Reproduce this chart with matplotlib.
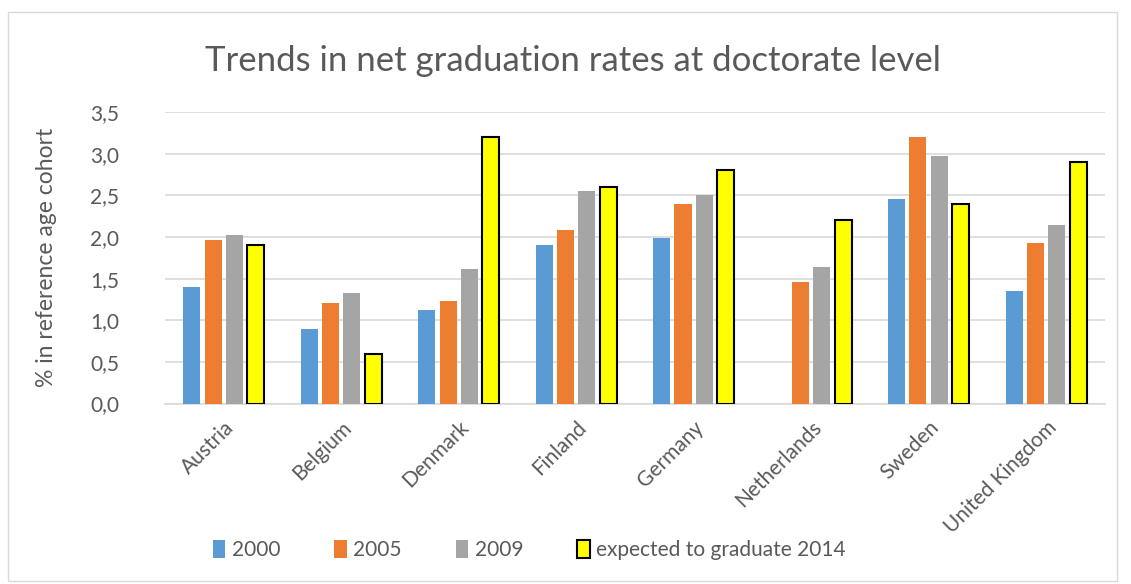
import numpy as np
import matplotlib
matplotlib.use("Agg")
import matplotlib.pyplot as plt
from matplotlib.patches import Rectangle
from matplotlib.ticker import FuncFormatter

plt.rcParams['font.family'] = ['Lato', 'DejaVu Sans']

countries = ['Austria', 'Belgium', 'Denmark', 'Finland', 'Germany',
             'Netherlands', 'Sweden', 'United Kingdom']
rate_2000 = [1.40, 0.89, 1.12, 1.91, 1.99, np.nan, 2.46, 1.35]
rate_2005 = [1.96, 1.21, 1.23, 2.09, 2.40, 1.46, 3.20, 1.93]
rate_2009 = [2.03, 1.33, 1.61, 2.55, 2.51, 1.64, 2.97, 2.14]
rate_2014 = [1.90, 0.60, 3.20, 2.60, 2.80, 2.20, 2.40, 2.90]
series_names = ['2000', '2005', '2009', 'expected to graduate 2014']

text_col = '#595959'
fig = plt.figure(figsize=(11.31, 5.84), dpi=100)
ax = fig.add_axes([0.1459, 0.309, 0.831, 0.499])

x = np.arange(len(countries))
step = 0.182
width = 0.145
styles = [
    dict(color='#5b9bd5'),
    dict(color='#ed7d31'),
    dict(color='#a5a5a5'),
    dict(color='#ffff00', edgecolor='black', linewidth=1.5),
]
all_series = [rate_2000, rate_2005, rate_2009, rate_2014]
for i, (vals, st, name) in enumerate(zip(all_series, styles, series_names)):
    ax.bar(x + (i - 1.5) * step, vals, width, label=name, zorder=3, **st)

ax.set_xlim(-0.5, len(countries) - 0.5)
ax.set_ylim(0, 3.5)
ax.set_yticks(np.arange(0, 3.51, 0.5))
ax.yaxis.set_major_formatter(FuncFormatter(lambda v, p: f'{v:.1f}'.replace('.', ',')))
ax.grid(axis='y', color='#d9d9d9', linewidth=1.2, zorder=0)
for s in ['top', 'right', 'left']:
    ax.spines[s].set_visible(False)
ax.spines['bottom'].set_color('#d9d9d9')
ax.spines['bottom'].set_linewidth(1.2)
ax.tick_params(axis='both', length=0, colors=text_col, labelsize=15)
ax.tick_params(axis='y', pad=33)
ax.set_xticks(x)
ax.set_xticklabels(countries, rotation=45, ha='right', rotation_mode='anchor', fontsize=15)
ax.tick_params(axis='x', pad=10)

ax.set_ylabel('% in reference age cohort', fontsize=16.5, color=text_col, labelpad=24)
fig.text(0.507, 0.895, 'Trends in net graduation rates at doctorate level',
         ha='center', va='center', fontsize=25, color=text_col)

leg = fig.legend(loc='center', bbox_to_anchor=(0.468, 0.058), ncol=4, frameon=False,
                 fontsize=15, handlelength=0.6, handleheight=0.9, handletextpad=0.3,
                 columnspacing=2.6, labelcolor=text_col)

fig.patches.append(Rectangle((0.007, 0.005), 0.981, 0.975, transform=fig.transFigure,
                             fill=False, edgecolor='#d9d9d9', linewidth=1))

fig.savefig('out.png', dpi=100)
